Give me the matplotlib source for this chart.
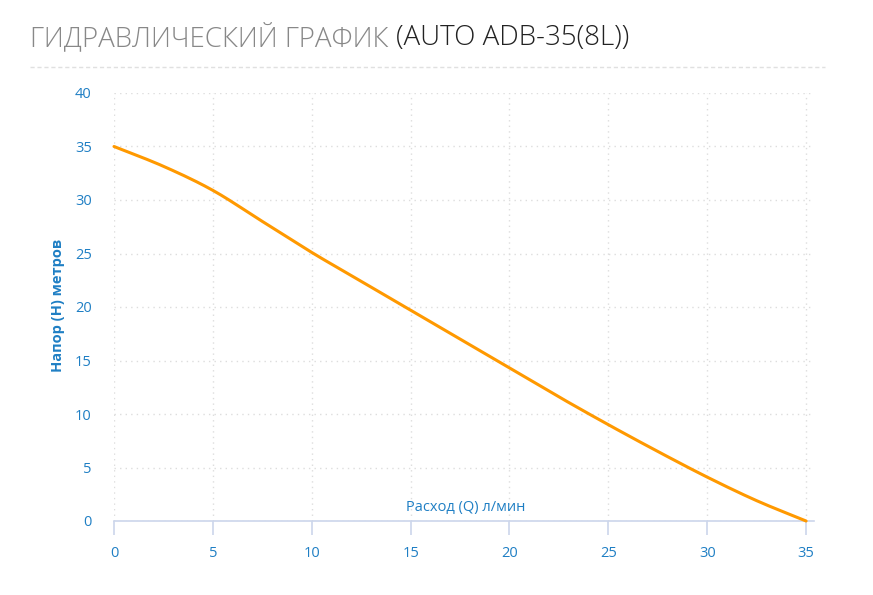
import numpy as np
import matplotlib.pyplot as plt

# данные с графика
flow = [0, 2.5, 5, 7.5, 10, 12.5, 15, 17.5, 20, 22.5, 25, 27.5, 30, 32.5, 35]
head = [35, 33.15, 30.9, 28.0, 25.1, 22.4, 19.7, 17.0, 14.3, 11.6, 9.0, 6.5, 4.1, 1.9, 0]
xticks = [0, 5, 10, 15, 20, 25, 30, 35]
yticks = [0, 5, 10, 15, 20, 25, 30, 35, 40]

blue = '#1f7fc4'
fig = plt.figure(figsize=(8.73, 5.95), dpi=100)
ax = fig.add_axes([114/873, 74/595, 700/873, 428/595])

# сглаженная линия (Catmull-Rom только для отрисовки)
px, py = [], []
pts = np.array([flow, head]).T
ext = np.vstack([2*pts[0]-pts[1], pts, 2*pts[-1]-pts[-2]])
for i in range(1, len(ext)-2):
    p0, p1, p2, p3 = ext[i-1], ext[i], ext[i+1], ext[i+2]
    for t in np.linspace(0, 1, 12, endpoint=False):
        c = 0.5*((2*p1) + (-p0+p2)*t + (2*p0-5*p1+4*p2-p3)*t**2 + (-p0+3*p1-3*p2+p3)*t**3)
        px.append(c[0]); py.append(c[1])
px.append(flow[-1]); py.append(head[-1])
ax.plot(px, py, color='#ff9900', lw=2.2, solid_capstyle='round', zorder=3, clip_on=False)

ax.set_xlim(0, 35.4)
ax.set_ylim(0, 40)
ax.set_xticks(xticks)
ax.set_yticks(yticks)
ax.grid(True, color='#dddddd', linestyle=(0, (1, 3)), lw=1)
for s in ['top', 'right', 'left']:
    ax.spines[s].set_visible(False)
ax.spines['bottom'].set_color('#ccd6eb')
ax.spines['bottom'].set_linewidth(1.2)
ax.tick_params(axis='x', colors='#ccd6eb', length=10, width=1.2, pad=8, labelcolor=blue, labelsize=10.5)
ax.tick_params(axis='y', length=0, pad=16, labelcolor=blue, labelsize=10.5)
for lab in ax.get_xticklabels() + ax.get_yticklabels():
    lab.set_fontfamily('Open Sans')

ax.text(17.8, 0.6, 'Расход (Q) л/мин', color=blue, fontsize=10.5, family='Open Sans', ha='center', va='bottom')
fig.text(58/873, 1-305/595, 'Напор (H) метров', color=blue, fontsize=10.5, family='Open Sans',
         weight='bold', rotation=90, ha='center', va='center')

# заголовок
t1 = fig.text(30/873, 1-38/595, 'ГИДРАВЛИЧЕСКИЙ ГРАФИК ', color='#888888', fontsize=20,
              family='Open Sans', weight='light', va='center', ha='left')
fig.canvas.draw()
bb = t1.get_window_extent()
fig.text(bb.x1/873, 1-38/595, '(AUTO ADB-35(8L))', color='#222222', fontsize=20,
         family='Open Sans', weight='light', va='center', ha='left')
fig.add_artist(plt.Line2D([30/873, 825/873], [1-67/595, 1-67/595], color='#e0e0e0',
                          lw=1, linestyle=(0, (3, 2))))

fig.savefig('out.png', dpi=100, facecolor='white')
